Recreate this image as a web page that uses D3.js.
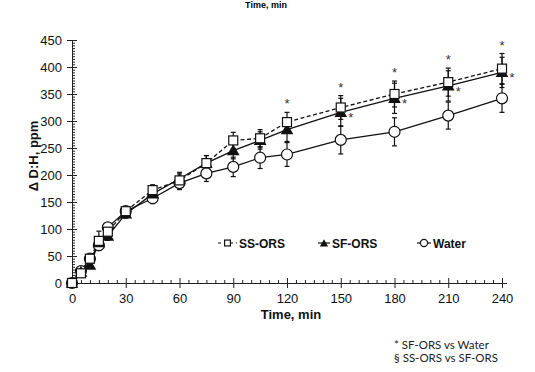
<!DOCTYPE html>
<html><head><meta charset="utf-8">
<script src="https://cdn.jsdelivr.net/npm/d3@7"></script>
<style>body{margin:0;background:#fff}svg{display:block}</style>
</head><body>
<svg id="c" width="535" height="372"></svg>
<script>
const times = [0,5,10,15,20,30,45,60,75,90,105,120,150,180,210,240];
const ssORS = [0,18,45,78,95,133,172,190,222,264,268,298,325,350,372,397];
const ssSD  = [0,4,6,18,8,8,10,12,14,15,16,18,22,24,26,28];
const sfORS = [0,20,33,75,87,128,165,193,222,245,264,284,316,342,365,390];
const sfSD  = [0,4,5,8,8,8,10,12,14,15,16,22,26,28,28,28];
const water = [0,22,45,70,103,133,157,185,203,215,232,238,265,280,310,342];
const waterSD = [0,3,5,6,6,8,10,12,15,18,20,22,26,26,25,26];
const starTopTimes = [120,150,180,210,240];
const starRightTimes = [150,180,210,240];
const xTicks = [0,30,60,90,120,150,180,210,240];
const yTicks = [0,50,100,150,200,250,300,350,400,450];

const svg = d3.select("#c");
const x = d3.scaleLinear().domain([0,240]).range([72,502]);
const y = d3.scaleLinear().domain([0,450]).range([283,40]);
const font = "Liberation Sans, Arial, sans-serif";

// small title at very top (cropped in the reference)
svg.append("text").attr("x",266).attr("y",7.5).attr("text-anchor","middle")
  .attr("font-family",font).attr("font-weight","bold").attr("font-size",9).text("Time, min");

// axes
const minorX = d3.range(0,241,5).filter(v=>v%30!==0);
const minorY = d3.range(0,451,5).filter(v=>v%50!==0);
function styleAxis(g){ g.selectAll("path,line").attr("stroke","#222").attr("stroke-width",1); g.selectAll("text").attr("font-family",font).attr("font-size",13).attr("fill","#111"); }
const gy = svg.append("g").attr("transform","translate(72,0)");
gy.call(d3.axisLeft(y).tickValues(yTicks).tickSize(5).tickSizeOuter(0).tickPadding(5)).call(styleAxis);
svg.append("g").attr("transform","translate(72,0)")
  .call(d3.axisRight(y).tickValues(yTicks).tickSize(5).tickSizeOuter(0).tickFormat("")).call(styleAxis);
svg.append("g").attr("transform","translate(72,0)")
  .call(d3.axisRight(y).tickValues(minorY).tickSize(3).tickSizeOuter(0).tickFormat("")).call(styleAxis)
  .select(".domain").remove();
const gx = svg.append("g").attr("transform","translate(0,283)");
gx.call(d3.axisBottom(x).tickValues(xTicks).tickSize(5).tickSizeOuter(0).tickPadding(6)).call(styleAxis);
gx.select(".domain").attr("d","M72,0.5H507");
svg.append("g").attr("transform","translate(0,283)")
  .call(d3.axisTop(x).tickValues(xTicks).tickSize(5).tickSizeOuter(0).tickFormat("")).call(styleAxis).select(".domain").remove();
svg.append("g").attr("transform","translate(0,283)")
  .call(d3.axisTop(x).tickValues(minorX).tickSize(3).tickSizeOuter(0).tickFormat("")).call(styleAxis).select(".domain").remove();

svg.append("text").attr("x",291).attr("y",319).attr("text-anchor","middle")
  .attr("font-family",font).attr("font-weight","bold").attr("font-size",13).attr("fill","#111").text("Time, min");
svg.append("text").attr("transform","translate(38,156) rotate(-90)").attr("text-anchor","middle")
  .attr("font-family",font).attr("font-weight","bold").attr("font-size",13).attr("fill","#111").text("Δ D:H, ppm");

// series
const series = [
  {name:"Water", vals:water, sd:waterSD, dash:null, sym:"circle"},
  {name:"SF-ORS", vals:sfORS, sd:sfSD, dash:null, sym:"tri"},
  {name:"SS-ORS", vals:ssORS, sd:ssSD, dash:"4,2.5", sym:"sq"}
];
const line = d3.line().x((d,i)=>x(times[i])).y(d=>y(d));
series.forEach(s=>{
  svg.append("path").datum(s.vals).attr("d",line).attr("fill","none").attr("stroke","#111")
    .attr("stroke-width",1.3).attr("stroke-dasharray",s.dash);
});
series.forEach(s=>{
  const g = svg.append("g").attr("stroke","#111").attr("stroke-width",1.2);
  s.vals.forEach((v,i)=>{
    if(!s.sd[i]) return;
    const cx = x(times[i]), y1 = y(v+s.sd[i]), y2 = y(v-s.sd[i]);
    g.append("line").attr("x1",cx).attr("x2",cx).attr("y1",y1).attr("y2",y2);
    g.append("line").attr("x1",cx-2.5).attr("x2",cx+2.5).attr("y1",y1).attr("y2",y1);
    g.append("line").attr("x1",cx-2.5).attr("x2",cx+2.5).attr("y1",y2).attr("y2",y2);
  });
});
function drawMarker(g, sym, cx, cy, scale){
  if(sym==="circle") g.append("circle").attr("cx",cx).attr("cy",cy).attr("r",5.5*scale).attr("fill","#fff").attr("stroke","#111").attr("stroke-width",1.2);
  else if(sym==="sq") g.append("rect").attr("x",cx-4.5*scale).attr("y",cy-4.5*scale).attr("width",9*scale).attr("height",9*scale).attr("fill","#fff").attr("stroke","#111").attr("stroke-width",1.2);
  else g.append("path").attr("transform",`translate(${cx},${cy+1})`).attr("d",d3.symbol(d3.symbolTriangle, 70*scale*scale)()).attr("fill","#111");
}
const mg = svg.append("g");
series.forEach(s=>{
  s.vals.forEach((v,i)=>drawMarker(mg, s.sym, x(times[i]), y(v), 1));
});
// stars
starTopTimes.forEach(t=>{
  const i = times.indexOf(t);
  svg.append("text").attr("x",x(t)).attr("y",y(Math.max(ssORS[i]+ssSD[i], sfORS[i]+sfSD[i]))-4).attr("text-anchor","middle")
    .attr("font-family",font).attr("font-size",13).attr("fill","#333").text("*");
});
starRightTimes.forEach(t=>{
  const i = times.indexOf(t);
  svg.append("text").attr("x",x(t)+10).attr("y",y(sfORS[i])+10).attr("text-anchor","middle")
    .attr("font-family",font).attr("font-size",13).attr("fill","#333").text("*");
});

// legend
const legend = [
  {label:"SS-ORS", sym:"sq", dash:"3,3", lx:218, tx:239},
  {label:"SF-ORS", sym:"tri", dash:null, lx:318, tx:332},
  {label:"Water", sym:"circle", dash:null, lx:417, tx:433}
];
legend.forEach(l=>{
  const ly = 243;
  const g = svg.append("g");
  g.append("line").attr("x1",l.lx).attr("x2",l.tx-2).attr("y1",ly).attr("y2",ly).attr("stroke","#111").attr("stroke-width",1.2).attr("stroke-dasharray",l.dash);
  drawMarker(g, l.sym, (l.lx+l.tx-2)/2, ly, 0.65);
  g.append("text").attr("x",l.tx).attr("y",ly+4.5).attr("font-family",font).attr("font-weight","bold").attr("font-size",12).attr("fill","#111").text(l.label);
});

// footnotes
const notes = ["* SF-ORS vs Water","§ SS-ORS vs SF-ORS"];
notes.forEach((n,i)=>{
  svg.append("text").attr("x",394).attr("y",349+i*13).attr("font-family","Lato, 'Open Sans', sans-serif").attr("font-size",11.5).attr("fill","#222").text(n);
});
</script>
</body></html>
